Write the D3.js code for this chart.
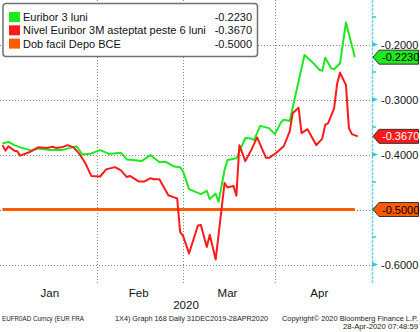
<!DOCTYPE html>
<html><head><meta charset="utf-8">
<script src="https://cdn.jsdelivr.net/npm/d3@7"></script>
<style>
html,body{margin:0;padding:0;background:#fff;}
svg{display:block;font-family:"Liberation Sans",Arial,sans-serif;}
</style></head>
<body>
<svg id="c" width="420" height="332"></svg>
<script>
// ---- data ----
const seriesNames = ["Euribor 3 luni", "Nivel Euribor 3M asteptat peste 6 luni", "Dob facil Depo BCE"];
const lastValues = [-0.2230, -0.3670, -0.5000];

const euriborDates = ["2019-12-31","2020-01-02","2020-01-04","2020-01-06","2020-01-10","2020-01-12","2020-01-16","2020-01-20","2020-01-23","2020-01-25","2020-01-27","2020-01-30","2020-02-02","2020-02-05","2020-02-09","2020-02-11","2020-02-13","2020-02-16","2020-02-19","2020-02-22","2020-02-24","2020-02-27","2020-02-29","2020-03-01","2020-03-03","2020-03-07","2020-03-09","2020-03-10","2020-03-12","2020-03-13","2020-03-15","2020-03-16","2020-03-19","2020-03-22","2020-03-24","2020-03-25","2020-03-27","2020-03-30","2020-04-01","2020-04-03","2020-04-04","2020-04-06","2020-04-11","2020-04-14","2020-04-16","2020-04-17","2020-04-18","2020-04-20","2020-04-21","2020-04-23","2020-04-25","2020-04-28"];
const euriborValues = [-0.380,-0.377,-0.383,-0.387,-0.393,-0.389,-0.392,-0.392,-0.388,-0.385,-0.400,-0.398,-0.392,-0.399,-0.397,-0.409,-0.410,-0.412,-0.401,-0.414,-0.413,-0.422,-0.423,-0.431,-0.463,-0.472,-0.466,-0.481,-0.471,-0.486,-0.428,-0.410,-0.407,-0.370,-0.371,-0.374,-0.348,-0.352,-0.363,-0.342,-0.337,-0.339,-0.219,-0.234,-0.246,-0.248,-0.224,-0.243,-0.245,-0.234,-0.160,-0.223];

const fraDates = ["2019-12-31","2020-01-01","2020-01-02","2020-01-04","2020-01-05","2020-01-06","2020-01-09","2020-01-12","2020-01-15","2020-01-17","2020-01-18","2020-01-20","2020-01-22","2020-01-24","2020-01-26","2020-01-28","2020-01-30","2020-02-02","2020-02-04","2020-02-07","2020-02-09","2020-02-11","2020-02-12","2020-02-15","2020-02-17","2020-02-19","2020-02-20","2020-02-22","2020-02-25","2020-02-27","2020-02-28","2020-02-29","2020-03-01","2020-03-03","2020-03-06","2020-03-07","2020-03-09","2020-03-10","2020-03-12","2020-03-15","2020-03-16","2020-03-18","2020-03-19","2020-03-20","2020-03-22","2020-03-24","2020-03-26","2020-03-29","2020-03-30","2020-04-01","2020-04-04","2020-04-06","2020-04-07","2020-04-09","2020-04-10","2020-04-12","2020-04-15","2020-04-17","2020-04-18","2020-04-19","2020-04-21","2020-04-22","2020-04-23","2020-04-25","2020-04-26","2020-04-27","2020-04-29"];
const fraValues = [-0.383,-0.393,-0.385,-0.393,-0.394,-0.402,-0.396,-0.387,-0.388,-0.386,-0.388,-0.387,-0.383,-0.387,-0.399,-0.416,-0.439,-0.440,-0.427,-0.423,-0.429,-0.441,-0.439,-0.449,-0.449,-0.443,-0.445,-0.445,-0.474,-0.478,-0.480,-0.541,-0.548,-0.580,-0.529,-0.528,-0.568,-0.546,-0.591,-0.452,-0.460,-0.457,-0.475,-0.383,-0.412,-0.392,-0.369,-0.406,-0.406,-0.399,-0.385,-0.358,-0.325,-0.315,-0.361,-0.354,-0.383,-0.371,-0.346,-0.343,-0.316,-0.272,-0.251,-0.274,-0.352,-0.363,-0.367];

const depoDates = ["2019-12-31","2020-04-28"];
const depoValues = [-0.5,-0.5];

const yTicks = [-0.2,-0.3,-0.4,-0.5,-0.6];
const yMinorTicks = [-0.15,-0.25,-0.35,-0.45,-0.55];
const monthStarts = ["2020-02-01","2020-03-01","2020-04-01"];
const monthLabels = ["Jan","Feb","Mar","Apr"];
const monthMids = ["2020-01-16","2020-02-15","2020-03-16","2020-04-16"];
const yearLabel = "2020";
const footerLeft = "EUFR0AD Curncy (EUR FRA";
const footerMid = "1X4) Graph 168  Daily 31DEC2019-28APR2020";
const footerRight1 = "Copyright\u00A9 2020 Bloomberg Finance L.P.";
const footerRight2 = "28-Apr-2020 07:48:59";

const colors = ["#1ee81e","#ff1a1a","#ff5a00"];

// ---- drawing ----
const parse = d3.utcParse("%Y-%m-%d");
const svg = d3.select("#c");
const plotR = 372, plotB = 283;
const x = d3.scaleUtc().domain([new Date(Date.UTC(2019,11,30,4)), new Date(Date.UTC(2020,4,3,19))]).range([0, plotR]);
const y = d3.scaleLinear().domain([-0.6,-0.2]).range([264.5,44.5]);

// grid
const grid = svg.append("g").attr("stroke","#808080").attr("stroke-width",1).attr("stroke-dasharray","1,2");
grid.selectAll("line.v").data(monthStarts).join("line")
  .attr("x1",d=>Math.round(x(parse(d)))+0.5).attr("x2",d=>Math.round(x(parse(d)))+0.5).attr("y1",0).attr("y2",plotB);
grid.selectAll("line.h").data(yTicks).join("line")
  .attr("x1",0).attr("x2",plotR).attr("y1",d=>Math.round(y(d))+0.5).attr("y2",d=>Math.round(y(d))+0.5);

// lines
const line = (dates, vals) => d3.line().x((d,i)=>x(parse(dates[i]))).y(d=>y(d))(vals);
svg.append("path").attr("d", line(depoDates, depoValues)).attr("fill","none").attr("stroke",colors[2]).attr("stroke-width",3);
svg.append("path").attr("d", line(euriborDates, euriborValues)).attr("fill","none").attr("stroke",colors[0]).attr("stroke-width",2).attr("stroke-linejoin","round");
svg.append("path").attr("d", line(fraDates, fraValues)).attr("fill","none").attr("stroke",colors[1]).attr("stroke-width",2).attr("stroke-linejoin","round");

// right axis
svg.append("line").attr("x1",plotR+0.5).attr("x2",plotR+0.5).attr("y1",0).attr("y2",plotB)
  .attr("stroke","#6fd6e4").attr("stroke-width",1.5).attr("stroke-dasharray","3,1");
const ax = svg.append("g");
ax.selectAll("path.tk").data(yTicks).join("path")
  .attr("d",d=>{const yy=y(d);return `M${plotR},${yy-2.5}L${plotR+6},${yy}L${plotR},${yy+2.5}Z`;})
  .attr("fill","#39c6dd");
ax.selectAll("line.mn").data(yMinorTicks).join("line")
  .attr("x1",plotR).attr("x2",plotR+4).attr("y1",d=>y(d)).attr("y2",d=>y(d))
  .attr("stroke","#39c6dd").attr("stroke-width",1.5);
ax.selectAll("text").data(yTicks).join("text")
  .attr("x",381).attr("y",d=>y(d)+4).attr("font-size",11).attr("fill","#111")
  .text(d=>d3.format(".4f")(d).replace("\u2212","-"));

// value tags
const tagTextCol = ["#000","#fff","#000"];
lastValues.forEach((v,i)=>{
  const yy = y(v);
  svg.append("path").attr("d",`M${plotR+1},${yy}L${plotR+7},${yy-7}L418.5,${yy-7}L418.5,${yy+7}L${plotR+7},${yy+7}Z`)
    .attr("fill",colors[i]).attr("stroke","#333").attr("stroke-width",1).attr("stroke-linejoin","round");
  svg.append("text").attr("x",382).attr("y",yy+4).attr("font-size",11).attr("fill",tagTextCol[i])
    .text(d3.format(".4f")(v).replace("\u2212","-"));
});

// x labels
svg.selectAll("text.m").data(monthLabels).join("text")
  .attr("x",(d,i)=>x(parse(monthMids[i]))).attr("y",297).attr("text-anchor","middle")
  .attr("font-size",11.5).attr("fill","#111").text(d=>d);
svg.append("text").attr("x",186).attr("y",309).attr("text-anchor","middle").attr("font-size",11.5).attr("fill","#111").text(yearLabel);

// footer
const ft = svg.append("g").attr("font-size",7.4).attr("fill","#1a1a1a");
ft.append("text").attr("x",2).attr("y",321).attr("textLength",82).attr("lengthAdjust","spacingAndGlyphs").text(footerLeft);
ft.append("text").attr("x",115).attr("y",321).attr("textLength",153).attr("lengthAdjust","spacingAndGlyphs").text(footerMid);
ft.append("text").attr("x",282).attr("y",321).attr("textLength",136).attr("lengthAdjust","spacingAndGlyphs").text(footerRight1);
ft.append("text").attr("x",343).attr("y",328.5).attr("textLength",75).attr("lengthAdjust","spacingAndGlyphs").text(footerRight2);

// legend
const lg = svg.append("g");
lg.append("rect").attr("x",3).attr("y",3.5).attr("width",254.5).attr("height",53).attr("rx",3)
  .attr("fill","#fff").attr("stroke","#707070").attr("stroke-width",1.5);
seriesNames.forEach((n,i)=>{
  const cy = 17 + i*13.3;
  lg.append("rect").attr("x",9).attr("y",cy-5).attr("width",11).attr("height",10).attr("fill",colors[i]);
  lg.append("text").attr("x",23).attr("y",cy+4).attr("font-size",11).attr("fill","#111").text(n);
  lg.append("text").attr("x",252).attr("y",cy+4).attr("text-anchor","end").attr("font-size",11).attr("fill","#111")
    .text(d3.format(".4f")(lastValues[i]).replace("\u2212","-"));
});
</script>
</body></html>
